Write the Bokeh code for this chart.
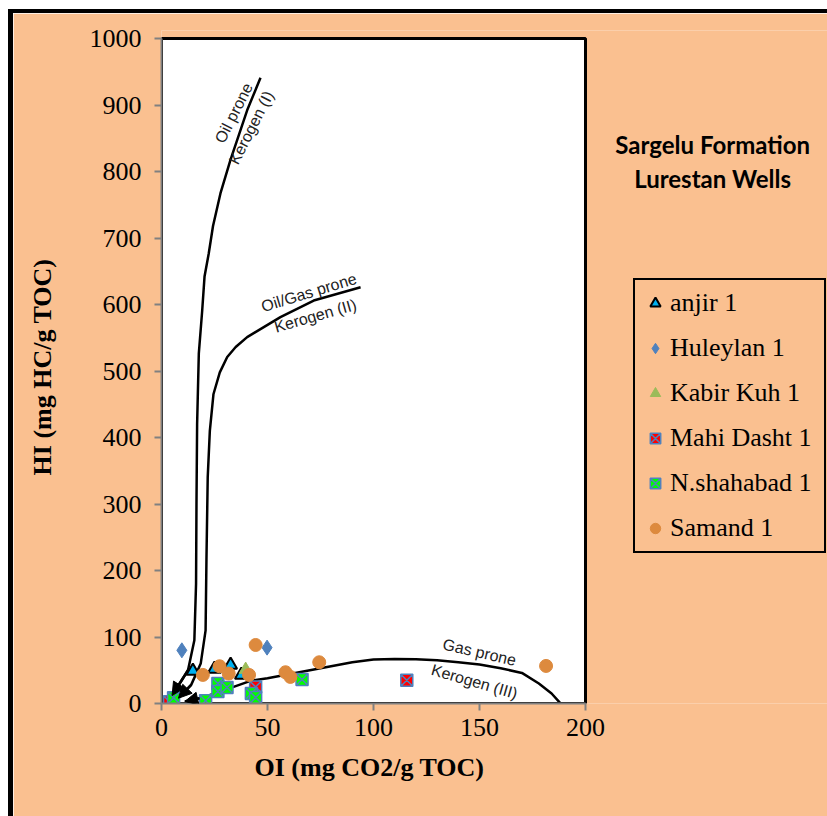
import math
from bokeh.plotting import figure
from bokeh.models import Range1d, FixedTicker, Legend, LegendItem, Label, Arrow, NormalHead, Title
from bokeh.embed import file_html
from bokeh.resources import INLINE

# ---- data (OI, HI) ----
anjir_oi = [14.8, 25.0, 32.6, 37.7]
anjir_hi = [49, 52, 58, 43]
huleylan_oi = [9.6, 49.8]
huleylan_hi = [80, 84]
kabir_oi = [39.7]
kabir_hi = [51]
mahi_oi = [3.8, 44.4, 115.7]
mahi_hi = [2.5, 25, 35]
shahabad_oi = [5.7, 20.8, 26.6, 26.6, 30.9, 42.4, 44.4, 66.3]
shahabad_hi = [8.6, 4, 30, 18, 24, 15, 9, 36]
samand_oi = [44.4, 27.4, 19.5, 31.7, 41.3, 58.5, 60.8, 74.4, 181.4]
samand_hi = [88, 56, 43, 45, 43, 47, 40, 62, 56.5]

# kerogen type reference curves
k1_oi = [46.7, 40.4, 32.5, 27.8, 24.3, 22.3, 20.3, 19.2, 17.6, 16.8, 16.5, 16.3, 15.5, 12.5, 5.0]
k1_hi = [941, 892, 817, 767, 718, 677, 642, 591, 526, 420, 300, 180, 95, 50, 12]
k2_oi = [93.9, 71.8, 56.1, 40.4, 35.0, 31.0, 27.5, 24.5, 22.8, 21.8, 21.2, 20.8, 18.5, 14.0, 8.0]
k2_hi = [626, 606, 581, 551, 536, 521, 498, 465, 410, 340, 215, 110, 60, 28, 8]
k3_oi = [188, 184, 178, 170, 160, 150, 140, 130, 120, 110, 100, 90, 80, 70, 60, 50, 42, 34, 26, 18, 11]
k3_hi = [1, 15, 30, 46, 53, 58.5, 62, 65, 66.5, 67, 66, 62, 56, 50, 44, 38, 34, 25, 16, 8, 3]

x_ticks = [0, 50, 100, 150, 200]
y_ticks = [0, 100, 200, 300, 400, 500, 600, 700, 800, 900, 1000]

ORANGE = "#FAC090"
SERIF = "Liberation Serif"

# frame: 161..827 px wide, 30..703 px high; plot box 0..200 spans 424 px, 0..1000 spans 665 px
p = figure(width=814, height=803,
           x_range=Range1d(0, 200 * 666 / 424), y_range=Range1d(0, 1000 * 673 / 665),
           output_backend="svg", toolbar_location=None,
           min_border_left=148, min_border_right=0, min_border_top=17, min_border_bottom=113,
           background_fill_color=ORANGE, border_fill_color=ORANGE)
p.margin = (13, 0, 0, 13)
p.styles = {"box-shadow": "-5px -4px 0px 0px black, 0px -4px 0px 0px black, -5px 0px 0px 0px black"}

p.grid.visible = False
p.outline_line_color = None

# white plotting box with black border
p.quad(left=[x_ticks[0]], right=[x_ticks[-1]], bottom=[y_ticks[0]], top=[y_ticks[-1]],
       fill_color="white", line_color=None)
p.line([x_ticks[0], x_ticks[0], x_ticks[-1], x_ticks[-1], x_ticks[0]],
       [y_ticks[0], y_ticks[-1], y_ticks[-1], y_ticks[0], y_ticks[0]],
       line_color="black", line_width=3)

for ax in (p.xaxis[0], p.yaxis[0]):
    ax.axis_line_color = "#808080"
    ax.axis_line_width = 2
    ax.major_tick_line_color = "#808080"
    ax.major_tick_line_width = 2
    ax.major_tick_out = 7
    ax.major_tick_in = 0
    ax.minor_tick_line_color = None
    ax.major_label_text_font = SERIF
    ax.major_label_text_font_size = "26px"
    ax.major_label_text_color = "black"
    ax.axis_label_text_font = SERIF
    ax.axis_label_text_font_size = "26px"
    ax.axis_label_text_font_style = "bold"
    ax.axis_label_text_color = "black"

p.xaxis.ticker = FixedTicker(ticks=x_ticks)
p.yaxis.ticker = FixedTicker(ticks=y_ticks)
p.xaxis.bounds = (x_ticks[0], x_ticks[-1])
p.yaxis.bounds = (y_ticks[0], y_ticks[-1])
p.yaxis.axis_label = "HI (mg HC/g TOC)"
p.xaxis.major_label_standoff = 8
p.yaxis.major_label_standoff = 13
p.yaxis.axis_label_standoff = 30

# x axis title centred under the 0..200 box (not under the whole frame)
p.add_layout(Title(text="OI (mg CO2/g TOC)", align="left", offset=93, standoff=25,
                   text_font=SERIF, text_font_size="26px", text_font_style="bold",
                   text_color="black"), "below")

# kerogen curves with arrow heads toward origin
for cx, cy in ((k1_oi, k1_hi), (k2_oi, k2_hi), (k3_oi, k3_hi)):
    p.line(cx, cy, line_color="black", line_width=2.5)
    p.add_layout(Arrow(end=NormalHead(size=13, fill_color="black", line_color="black"),
                       x_start=cx[-2], y_start=cy[-2], x_end=cx[-1], y_end=cy[-1],
                       line_color="black", line_width=2.5))

curve_labels = [
    ("Oil prone", 34.1, 888, 63),
    ("Kerogen (I)", 42.3, 866, 63),
    ("Oil/Gas prone", 69.5, 618, 17),
    ("Kerogen (II)", 72.6, 583, 16),
    ("Gas prone", 150, 77, -13),
    ("Kerogen (III)", 147.6, 33, -16),
]
for txt, lx, ly, ang in curve_labels:
    p.add_layout(Label(x=lx, y=ly, text=txt, angle=math.radians(ang),
                       text_align="center", text_baseline="middle",
                       text_font="Liberation Sans", text_font_size="16px", text_color="#222222"))

# data series
r_anjir = p.scatter(anjir_oi, anjir_hi, marker="triangle", size=13,
                    fill_color="#00B0F0", line_color="black", line_width=2)
r_hul = p.scatter(huleylan_oi, huleylan_hi, marker="diamond", size=15,
                  fill_color="#4F81BD", line_color="#4F81BD")
r_kab = p.scatter(kabir_oi, kabir_hi, marker="triangle", size=13,
                  fill_color="#9BBB59", line_color="#9BBB59")
r_mahi = p.scatter(mahi_oi, mahi_hi, marker="square_x", size=12,
                   fill_color="#FF0000", line_color="#4F81BD", line_width=1.5)
r_sha = p.scatter(shahabad_oi, shahabad_hi, marker="square_x", size=12,
                  fill_color="#00FF00", line_color="#4F81BD", line_width=1.5)
r_sam = p.scatter(samand_oi, samand_hi, marker="circle", size=13,
                  fill_color="#DD8A3E", line_color="#DD8A3E")

legend = Legend(items=[
    LegendItem(label="anjir 1", renderers=[r_anjir]),
    LegendItem(label="Huleylan 1", renderers=[r_hul]),
    LegendItem(label="Kabir Kuh 1", renderers=[r_kab]),
    LegendItem(label="Mahi Dasht 1", renderers=[r_mahi]),
    LegendItem(label="N.shahabad 1", renderers=[r_sha]),
    LegendItem(label="Samand 1", renderers=[r_sam]),
], location=(472, 150))
legend.border_line_color = "black"
legend.border_line_alpha = 1.0
legend.border_line_width = 2.5
legend.background_fill_alpha = 0
legend.label_text_font = SERIF
legend.label_text_font_size = "26px"
legend.label_text_color = "black"
legend.glyph_width = 26
legend.glyph_height = 32
legend.label_height = 32
legend.label_width = 147
legend.spacing = 13
legend.padding = 7
legend.margin = 0
legend.label_standoff = 2
p.add_layout(legend)

for txt, ty in (("Sargelu Formation", 841), ("Lurestan Wells", 790)):
    p.add_layout(Label(x=260, y=ty, text=txt, text_align="center", text_baseline="middle",
                       text_font="Lato", text_font_size="24px", text_font_style="bold",
                       text_color="black"))

open("out.html", "w").write(file_html(p, INLINE))
